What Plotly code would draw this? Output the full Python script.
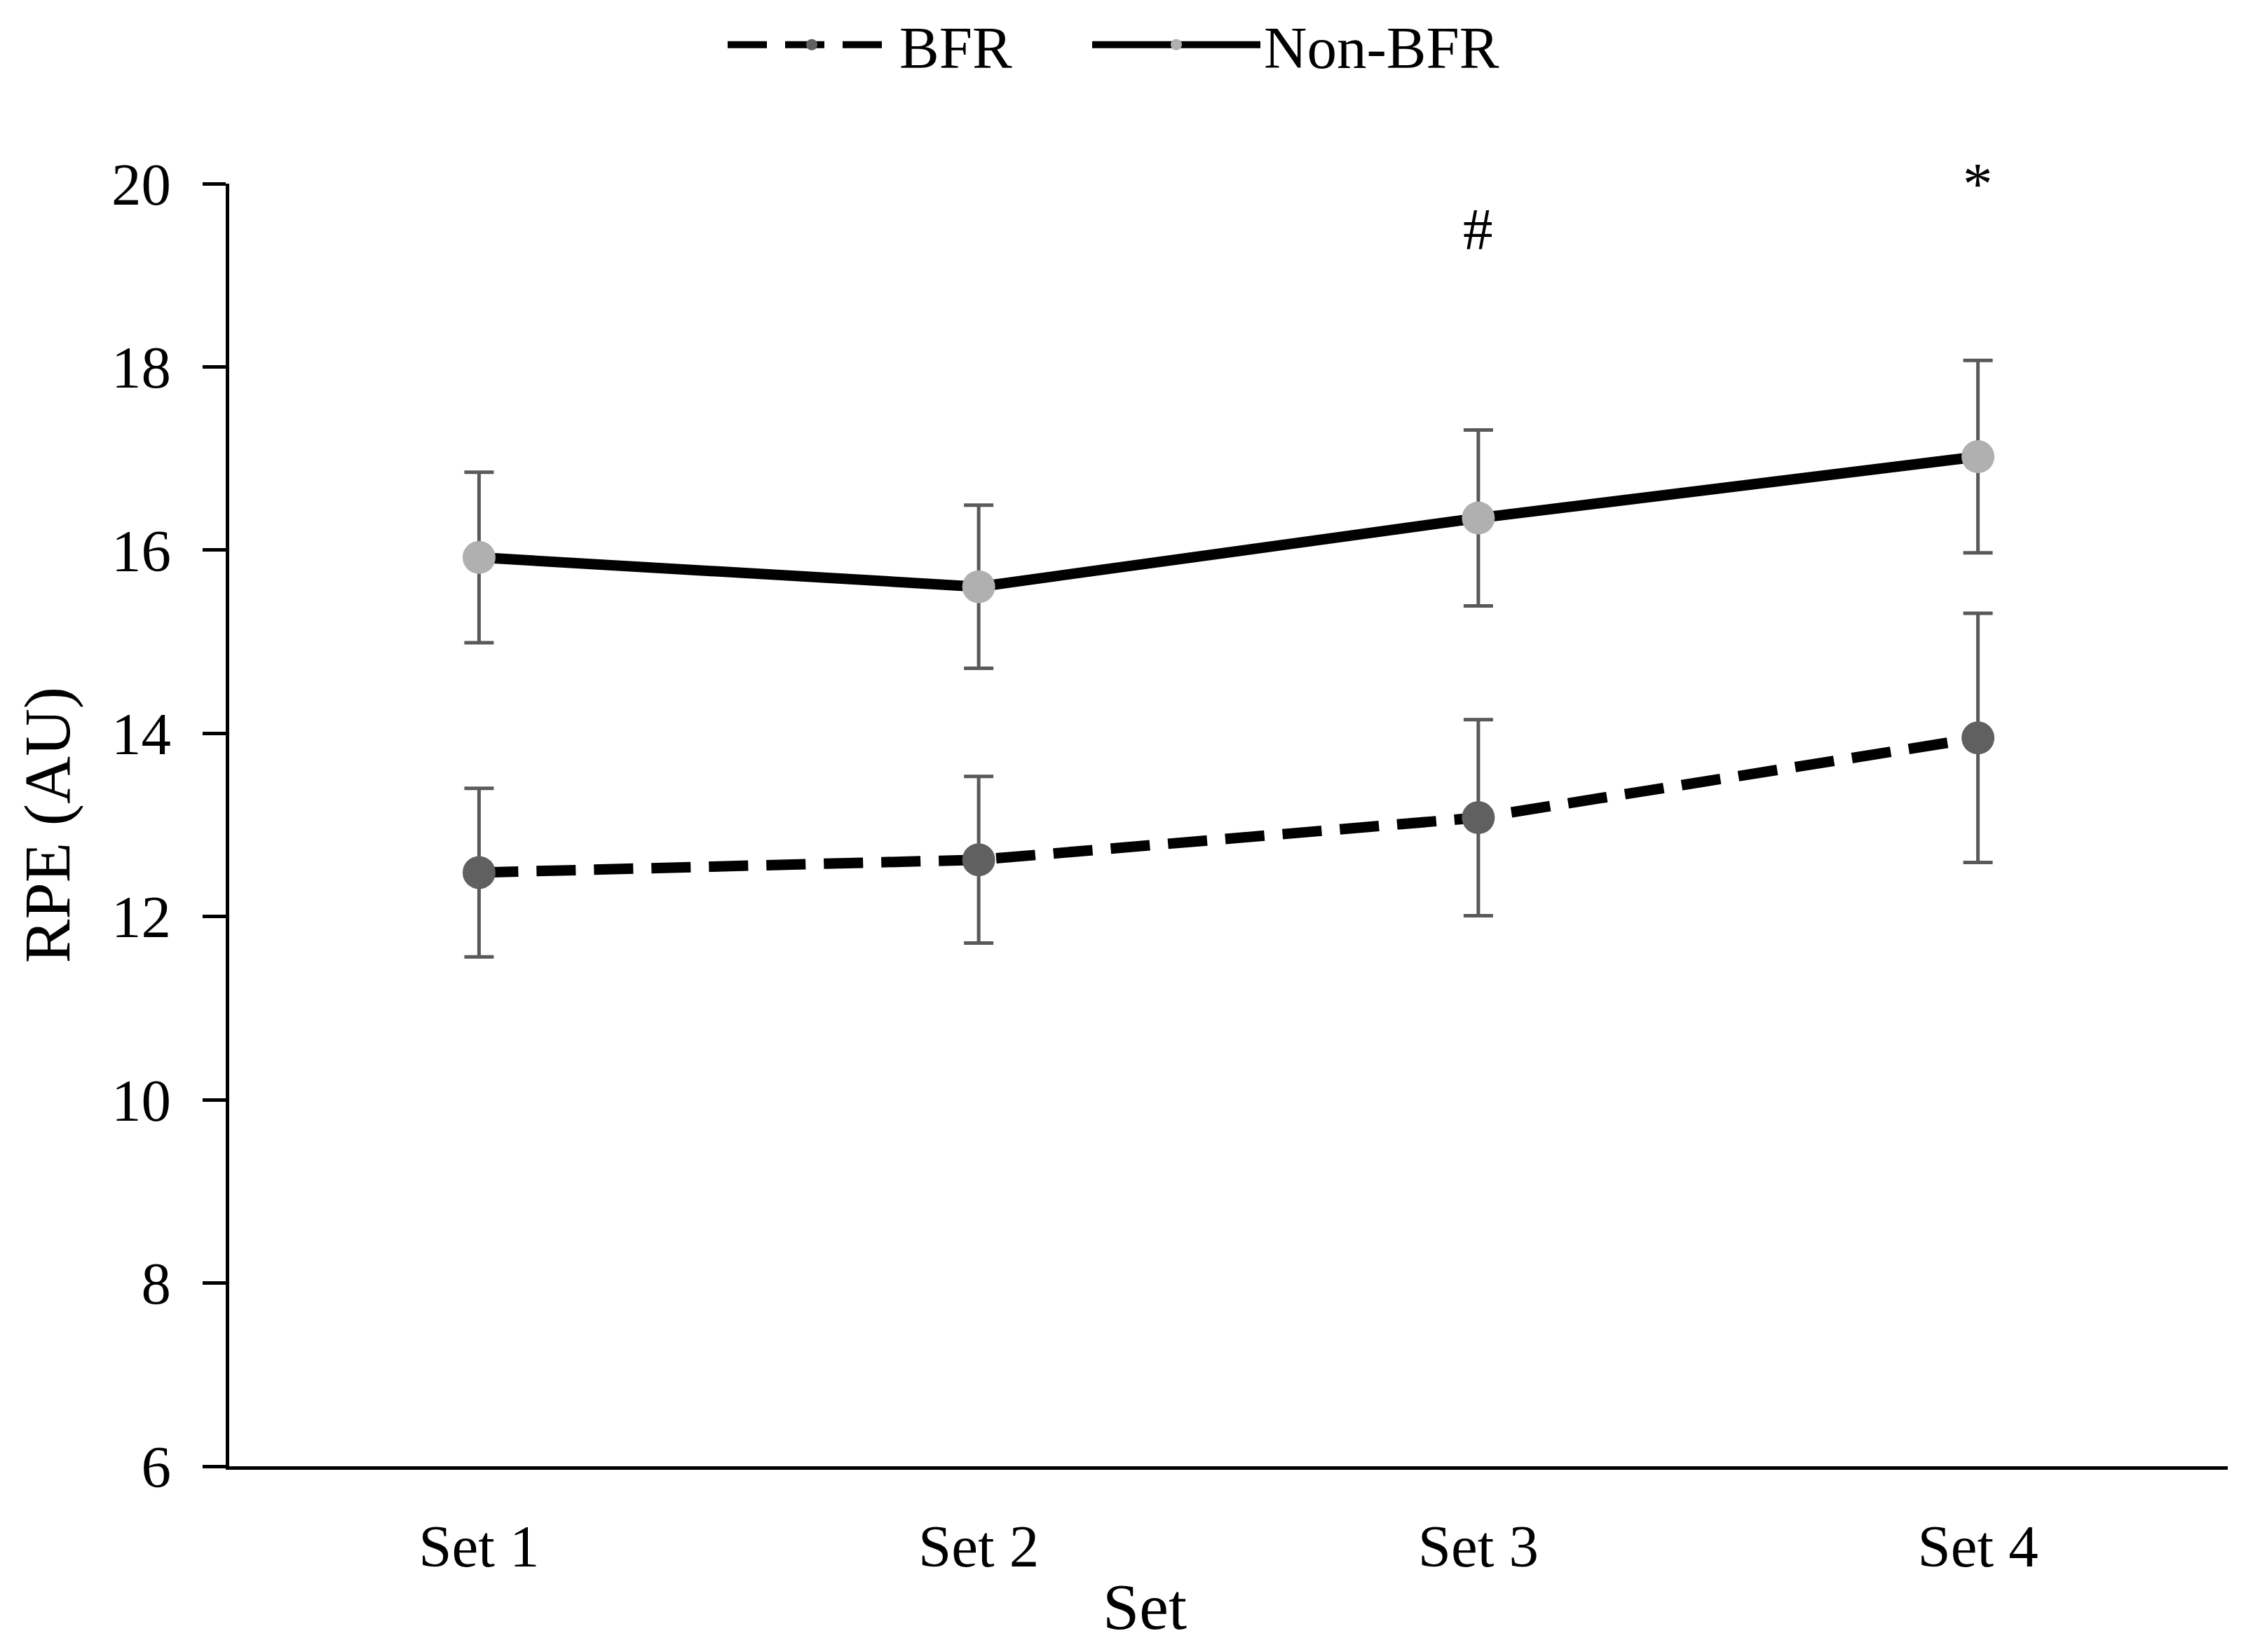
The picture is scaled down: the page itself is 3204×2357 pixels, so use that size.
import plotly.graph_objects as go

sets = ["Set 1", "Set 2", "Set 3", "Set 4"]
bfr_mean = [12.48, 12.62, 13.08, 13.95]
bfr_sd = [0.92, 0.91, 1.07, 1.36]
non_bfr_mean = [15.92, 15.60, 16.35, 17.02]
non_bfr_sd = [0.93, 0.89, 0.96, 1.05]
sig_marks = ["", "", "#", "*"]
sig_y = [None, None, 19.5, 20.0]
y_ticks = [6, 8, 10, 12, 14, 16, 18, 20]

FONT = "Liberation Serif"
FS = 85
FS_TITLE = 94

# page body has an 8px margin; figure sized to fit the window
W, H = 3196, 2349
L, R, T, B = 319, 26, 254, 265

fig = go.Figure()
fig.add_trace(go.Scatter(
    x=sets, y=bfr_mean, name="BFR", mode="lines+markers", legend="legend",
    line=dict(color="black", width=15, dash="56px,26px"),
    marker=dict(color="#606060", size=47),
    error_y=dict(type="data", array=bfr_sd, visible=True, color="#595959", thickness=5, width=21),
))
fig.add_trace(go.Scatter(
    x=sets, y=non_bfr_mean, name="Non-BFR", mode="lines+markers", legend="legend2",
    line=dict(color="black", width=15),
    marker=dict(color="#b0b0b0", size=47),
    error_y=dict(type="data", array=non_bfr_sd, visible=True, color="#595959", thickness=5, width=21),
))

for s, m, yy in zip(sets, sig_marks, sig_y):
    if m:
        fig.add_annotation(x=s, y=yy, text=m, showarrow=False, xref="x", yref="y",
                           font=dict(family=FONT, size=FS, color="black"), yanchor="middle")

pw = W - L - R
ph = H - T - B
fig.add_annotation(text="Set", xref="paper", yref="paper",
                   x=(1625 - L) / pw, y=-(2284 - (H - B)) / ph,
                   xanchor="center", yanchor="middle", showarrow=False,
                   font=dict(family=FONT, size=FS_TITLE, color="black"))

legend_common = dict(orientation="h", xref="container", xanchor="left",
                     yref="container", y=1 - 56 / H, yanchor="middle",
                     font=dict(family=FONT, size=FS, color="black"),
                     itemwidth=240, bgcolor="rgba(0,0,0,0)")

fig.update_layout(
    width=W, height=H,
    paper_bgcolor="white", plot_bgcolor="white",
    margin=dict(l=L, r=R, t=T, b=B),
    font=dict(family=FONT, size=FS, color="black"),
    showlegend=True,
    legend=dict(x=1025 / W, **legend_common),
    legend2=dict(x=1545 / W, **legend_common),
    xaxis=dict(
        range=[-0.5, 3.5], showline=True, linecolor="black", linewidth=5,
        ticks="", showgrid=False, zeroline=False, ticklabelstandoff=36,
        tickfont=dict(family=FONT, size=FS),
    ),
    yaxis=dict(
        title=dict(text="RPE (AU)", font=dict(family=FONT, size=FS_TITLE), standoff=30),
        range=[6, 20], tickvals=y_ticks, showline=True, linecolor="black", linewidth=5,
        ticks="outside", ticklen=33, tickwidth=5, tickcolor="black",
        showgrid=False, zeroline=False, ticklabelstandoff=28,
        tickfont=dict(family=FONT, size=FS),
    ),
)

fig.write_html("out.html")
